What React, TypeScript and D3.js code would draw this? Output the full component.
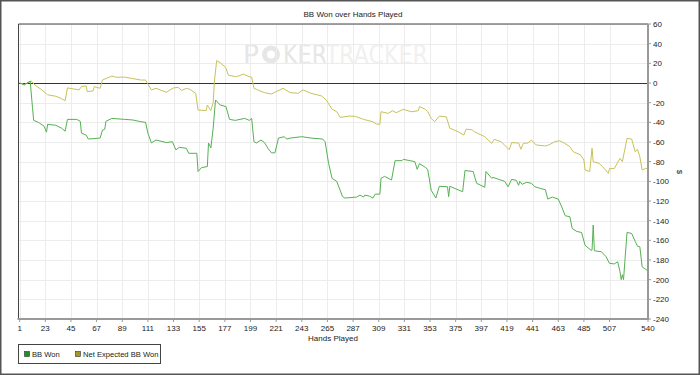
import React from 'react'
import * as d3 from 'd3'

// hands played (x) -> cumulative big blinds (y)
const bbWon: [number, number][] = [
  [1, 0], [5, -2], [10, 2], [12, -25], [13, -38], [17, -40], [22, -44], [24, -50],
  [25, -42], [32, -43], [37, -46], [40, -49], [42, -37], [50, -37], [53, -39], [54, -51],
  [58, -53], [60, -57], [70, -56], [72, -48], [74, -47], [75, -39], [80, -36], [91, -37],
  [98, -37.6], [105, -39.4], [109, -40], [111, -51], [114, -61], [118, -58], [127, -60.6],
  [132, -59.7], [135, -68], [138, -65.4], [144, -66.4], [146, -71.5], [153, -71.5],
  [154, -90], [157, -86], [162, -85], [163, -61], [165, -66], [167, -46], [169, -17.3],
  [173, -22.4], [178, -24], [181, -37], [186, -38], [194, -36], [198, -38], [200, -36],
  [202, -59.7], [204, -61], [208, -58], [211, -60.6], [214, -66.4], [217, -71], [220, -71],
  [223, -56], [228, -54.6], [230, -57], [233, -56], [243, -54.6], [251, -56], [261, -57],
  [263, -59.7], [266, -81.7], [269, -97], [273, -100], [278, -115.6], [280, -117],
  [290, -116], [293, -114], [296, -116], [297, -114], [301, -115], [304, -117], [306, -113],
  [310, -113], [311, -97], [314, -95], [320, -98.6], [323, -79], [329, -79], [330, -77.6],
  [340, -80], [342, -87.8], [344, -82], [349, -85.8], [351, -87.8], [354, -109], [358, -117],
  [361, -105], [368, -105.5], [369, -115.6], [370, -105], [381, -110.6], [383, -89],
  [390, -90], [393, -102], [400, -106], [401, -90], [406, -97], [407, -96], [417, -100],
  [420, -105.5], [423, -98], [427, -99], [429, -104], [430, -100], [432, -103], [436, -101],
  [440, -102], [443, -105.5], [447, -107], [452, -108.6], [454, -118], [458, -116],
  [463, -118], [466, -126], [469, -135], [473, -136], [475, -148], [479, -151], [483, -152],
  [486, -165], [491, -170], [492, -170], [493, -144.5], [494, -170.6], [500, -171.6],
  [504, -176.6], [507, -183.4], [511, -184], [514, -181.8], [516, -192], [517, -200],
  [518, -195], [519, -200], [522, -152], [526, -153], [529, -161], [531, -166],
  [533, -166.5], [535, -187], [538, -189.5], [540, -191],
]

const netExpected: [number, number][] = [
  [1, 0], [5, -1.5], [11, 2], [14, -2], [20, -7], [24, -11], [25, -12], [32, -13.5],
  [37, -16], [40, -18], [42, -5], [52, -7], [54, -3.5], [58, -3], [59, -8.8], [64, -8],
  [65, -3.7], [70, -5.4], [72, 3], [80, 7], [84, 5.8], [91, 6], [98, 4.5], [105, 3],
  [109, 3], [111, -1], [114, -7], [118, -5.4], [127, -9.5], [130, -7], [133, -5],
  [137, -4.5], [140, -7.5], [144, -5.5], [147, -6.4], [152, -10.5], [154, -27.5],
  [161, -28], [162, -22.4], [165, -28], [167, -20], [168, 1], [170, 22.7], [173, 20.7],
  [177, 16.6], [178, 15], [180, 8], [187, 6.4], [193, 9], [198, 6.4], [200, 6],
  [202, -5.4], [205, -7], [211, -9.8], [217, -11.2], [221, -8.8], [227, -5.4], [233, -9.8],
  [240, -10.5], [244, -7], [251, -10.5], [260, -13.2], [264, -17.3], [269, -26.8],
  [273, -29.2], [276, -35], [284, -33.6], [289, -34], [296, -37], [304, -39.4],
  [307, -41.7], [310, -42], [311, -29.2], [317, -30.9], [321, -28.2], [324, -30.2],
  [330, -26.8], [337, -29.2], [343, -28.2], [344, -24], [349, -26.8], [351, -29],
  [354, -36], [357, -39.4], [361, -33.6], [367, -34.5], [370, -46], [377, -49.5],
  [382, -52.9], [384, -47], [389, -47.5], [391, -49.5], [400, -54.6], [406, -61.4],
  [408, -57.3], [414, -59.7], [421, -68], [423, -60.7], [429, -61], [431, -67.4],
  [433, -61.4], [437, -61], [440, -58], [444, -63], [452, -64], [455, -63], [460, -59.7],
  [464, -58.7], [468, -61], [473, -64.8], [476, -70], [482, -73], [485, -78.3],
  [486, -88.5], [490, -90], [492, -66.4], [493, -80], [498, -81.7], [501, -85],
  [506, -91.9], [507, -87], [511, -87], [516, -76.6], [518, -80], [522, -56.3],
  [526, -57], [529, -70], [531, -67.4], [533, -75], [535, -88.5], [538, -86.8], [540, -87],
]

const handTicks = [1, 23, 45, 67, 89, 111, 133, 155, 177, 199, 221, 243, 265, 287, 309, 331, 353, 375, 397, 419, 441, 463, 485, 507, 540]
const valueTicks = [60, 40, 20, 0, -20, -40, -60, -80, -100, -120, -140, -160, -180, -200, -220, -240]

const seriesNames = ['BB Won', 'Net Expected BB Won']
const lineColors = ['#56b052', '#c8c25a']
const swatchColors = ['#1f8f1f', '#a39b1e']

const W = 700
const H = 375
const left = 18.5
const right = 648
const top = 24
const bottom = 319
const font = '"Liberation Sans", Arial, sans-serif'

export default function App() {
  const x = d3.scaleLinear().domain([0, 540]).range([left, right])
  const y = d3.scaleLinear().domain([-240, 60]).range([bottom, top])
  const line = d3
    .line<[number, number]>()
    .x((d) => x(d[0]))
    .y((d) => y(d[1]))

  return (
    <div>
      <style>{'body{margin:0}'}</style>
      <svg width={W} height={H} style={{ display: 'block' }} fontFamily={font}>
        <defs>
          {/* watermark: darker "POKER", lighter "TRACKER" */}
          <linearGradient id="wm" gradientUnits="userSpaceOnUse" x1={283} x2={428} y1={0} y2={0}>
            <stop offset="0.29" stopColor="#e6e6e6" />
            <stop offset="0.29" stopColor="#f0f0f0" />
          </linearGradient>
        </defs>
        <rect x={0} y={0} width={W} height={H} fill="#fff" />
        <rect x={0.75} y={0.75} width={W - 1.5} height={H - 1.5} fill="none" stroke="#555" strokeWidth={1.5} />

        <text x={353} y={17} textAnchor="middle" fontSize={8} fill="#222">
          BB Won over Hands Played
        </text>

        {/* watermark */}
        <g fill="#e6e6e6" fontFamily='"DejaVu Sans", sans-serif' fontSize={26}>
          <text x={243} y={64} textLength={16} lengthAdjust="spacingAndGlyphs">P</text>
          <circle cx={271} cy={54.5} r={9} />
          <circle cx={271} cy={54.5} r={4} fill="#fff" />
          <text x={283} y={64} textLength={145} lengthAdjust="spacingAndGlyphs" fill="url(#wm)">
            KERTRACKER
          </text>
        </g>

        {/* grid */}
        <g stroke="#ececec" strokeWidth={1}>
          {valueTicks.map((v) => (
            <line key={'h' + v} x1={left} x2={right} y1={Math.round(y(v)) + 0.5} y2={Math.round(y(v)) + 0.5} />
          ))}
          {handTicks.map((h) => (
            <line key={'v' + h} x1={Math.round(x(h)) + 0.5} x2={Math.round(x(h)) + 0.5} y1={top} y2={bottom} />
          ))}
        </g>

        {/* zero line */}
        <line x1={left} x2={right} y1={Math.round(y(0)) + 0.5} y2={Math.round(y(0)) + 0.5} stroke="#333" strokeWidth={1} />

        <path d={line(netExpected) || ''} fill="none" stroke={lineColors[1]} strokeWidth={1} />
        <path d={line(bbWon) || ''} fill="none" stroke={lineColors[0]} strokeWidth={1} />

        {/* frame */}
        <line x1={left} x2={right} y1={top} y2={top} stroke="#444" />
        <line x1={left} x2={left} y1={top} y2={bottom} stroke="#444" />
        <line x1={left - 1} x2={right + 1} y1={bottom} y2={bottom} stroke="#999" strokeWidth={2} />
        <line x1={right} x2={right} y1={top} y2={bottom + 1} stroke="#999" strokeWidth={2} />

        {/* right axis */}
        <g fontSize={8} fill="#222">
          {valueTicks.map((v) => (
            <g key={'yt' + v}>
              <line x1={right} x2={right + 3} y1={y(v)} y2={y(v)} stroke="#999" />
              <text x={right + 5} y={y(v) + 3}>{v}</text>
            </g>
          ))}
        </g>
        <text transform={`translate(677,172) rotate(90)`} textAnchor="middle" fontSize={8} fill="#222">$</text>

        {/* bottom axis */}
        <g fontSize={8} fill="#222">
          {handTicks.map((h) => (
            <g key={'xt' + h}>
              <line x1={x(h)} x2={x(h)} y1={bottom} y2={bottom + 3} stroke="#999" />
              <text x={x(h)} y={331} textAnchor="middle">{h}</text>
            </g>
          ))}
        </g>
        <text x={333} y={341} textAnchor="middle" fontSize={8} fill="#222">Hands Played</text>

        {/* legend */}
        <rect x={18.5} y={344.5} width={142} height={19} fill="#fff" stroke="#444" />
        {seriesNames.map((name, i) => {
          const lx = i === 0 ? 24 : 75
          return (
            <g key={name}>
              <rect x={lx + 0.5} y={351.5} width={5} height={5} fill={swatchColors[i]} stroke="#333" strokeWidth={0.6} />
              <text x={lx + 8} y={357} fontSize={7.6} fill="#222">{name}</text>
            </g>
          )
        })}
      </svg>
    </div>
  )
}
